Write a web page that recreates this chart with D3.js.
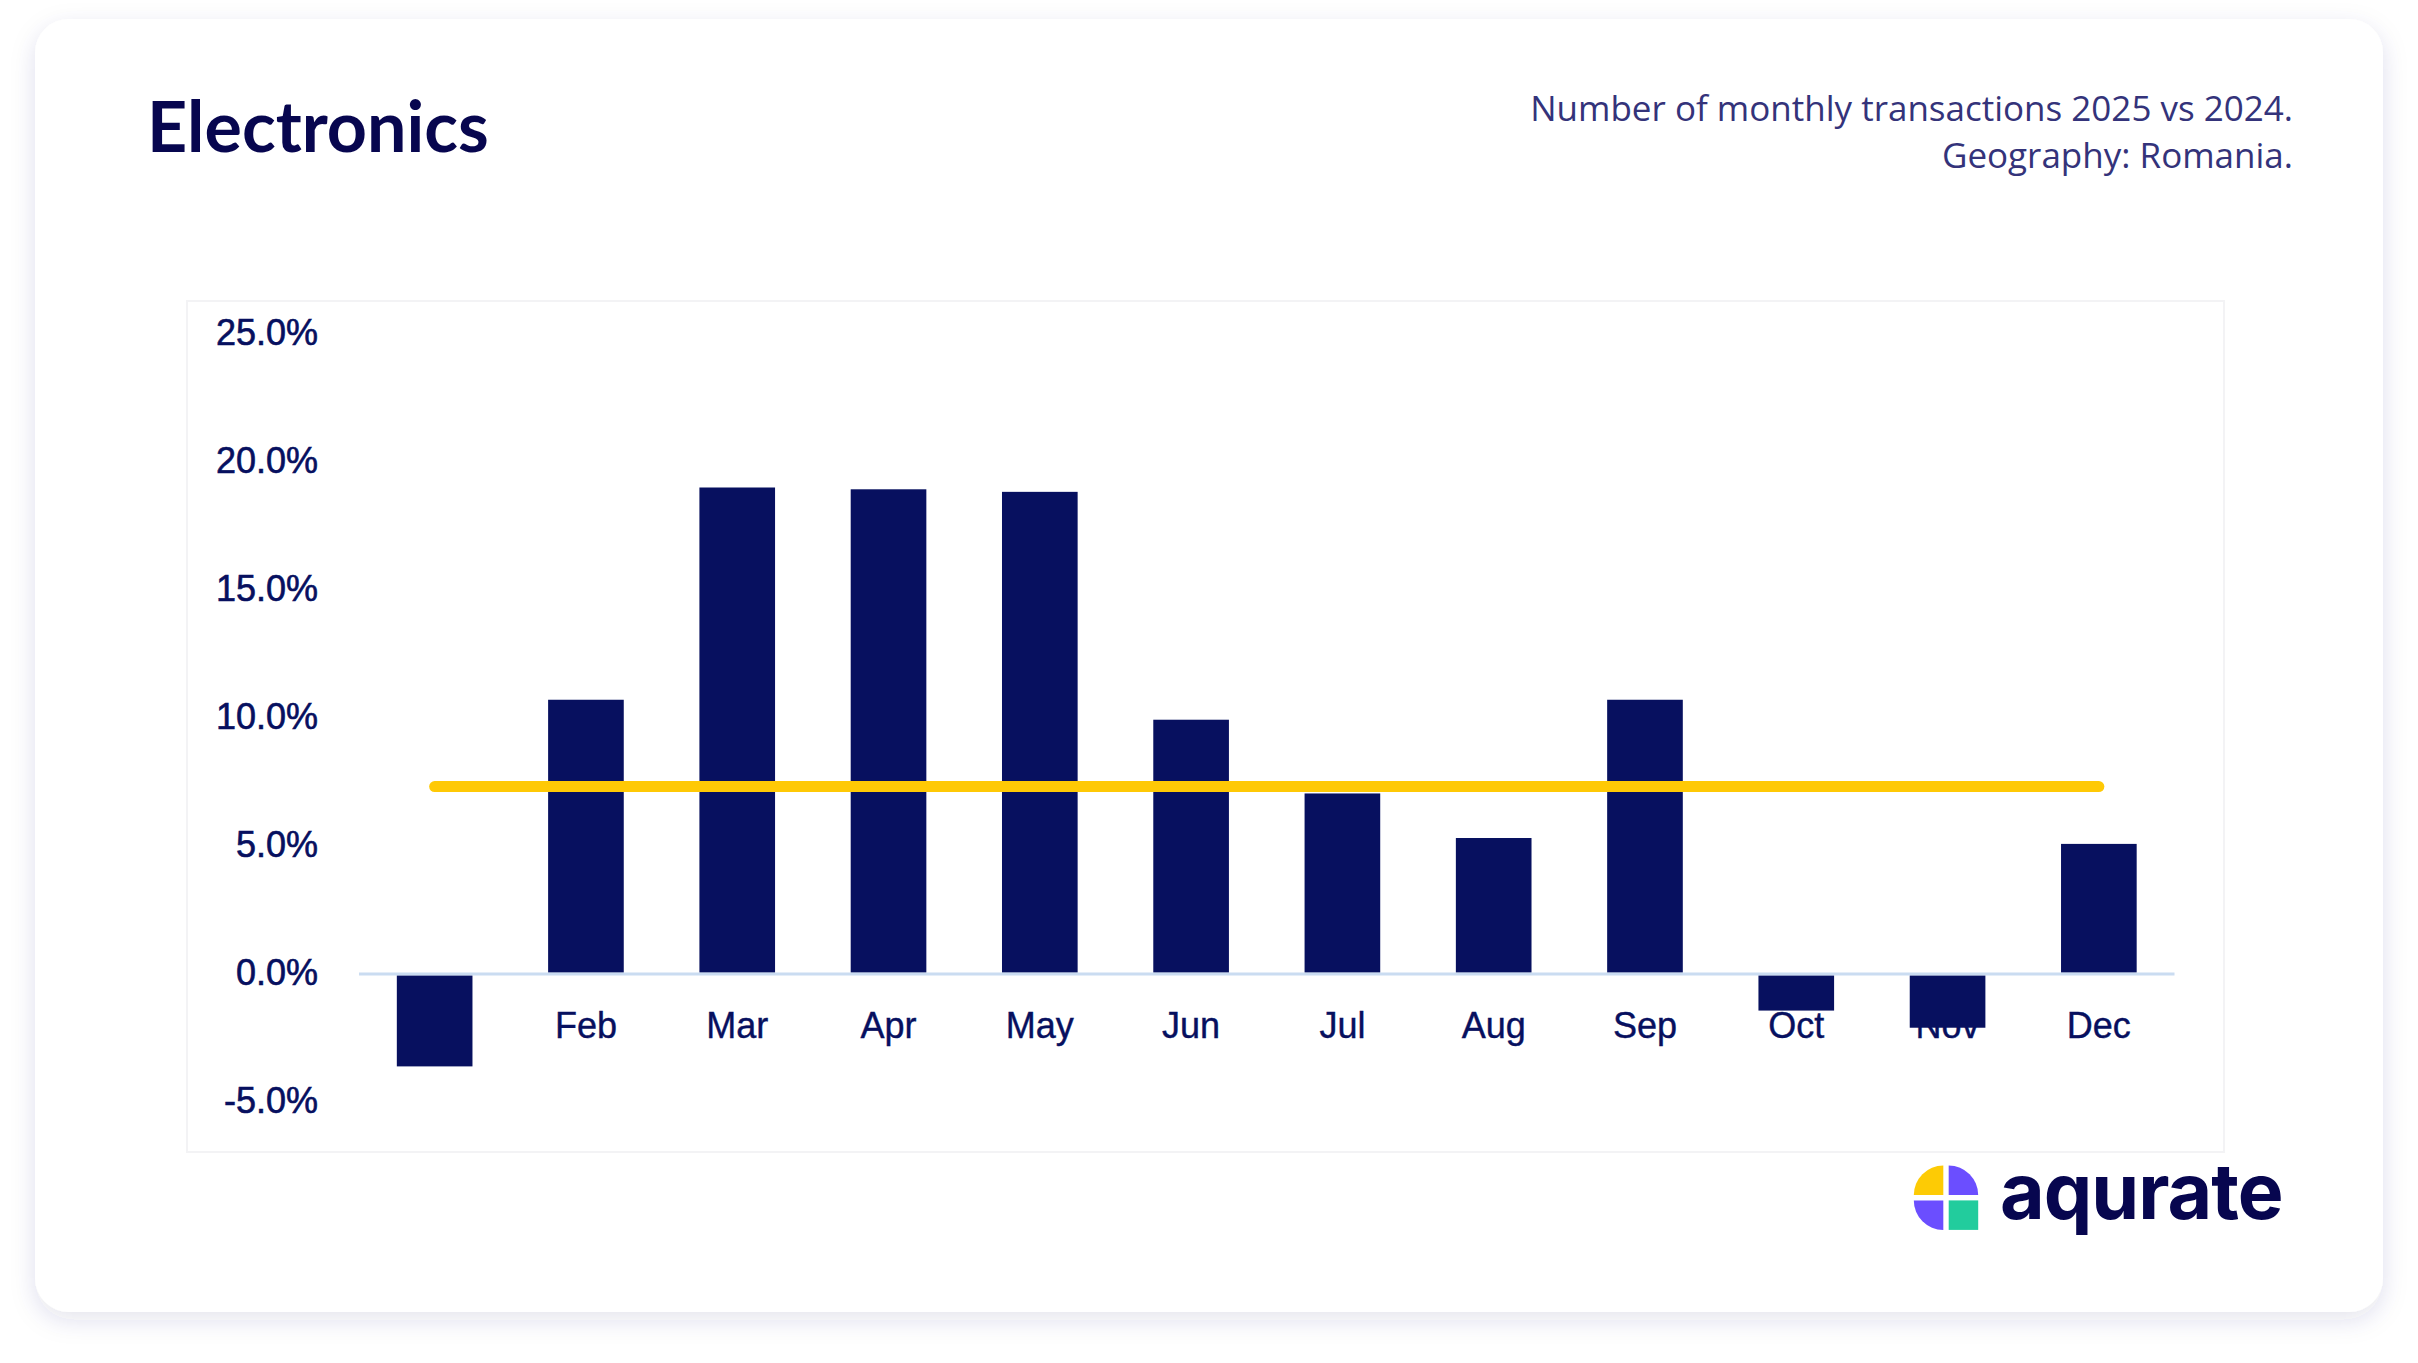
<!DOCTYPE html>
<html>
<head>
<meta charset="utf-8">
<script src="https://cdn.jsdelivr.net/npm/d3@7"></script>
<style>
    html, body { margin: 0; padding: 0; background: #ffffff; }
    svg { display: block; }
</style>
</head>
<body>
<div class="chart"></div>
<script>
var width = 2418;
var height = 1363;

// data (% change vs last year)
var months = ['Jan', 'Feb', 'Mar', 'Apr', 'May', 'Jun', 'Jul', 'Aug', 'Sep', 'Oct', 'Nov', 'Dec'];
var changes = [-3.66, 10.66, 18.95, 18.88, 18.78, 9.88, 7.0, 5.26, 10.66, -1.48, -2.15, 5.03];
var yTicks = [-5, 0, 5, 10, 15, 20, 25];
var avgLine = [7.27];

var titleText = 'Electronics';
var subLines = ['Number of monthly transactions 2025 vs 2024.', 'Geography: Romania.'];

var navy = '#07105f';
var ink = '#07064f';

var svg = d3.select('.chart').append('svg')
    .attr('width', width)
    .attr('height', height);

// card shadow
var defs = svg.append('defs');
defs.append('filter')
    .attr('id', 'shadow')
    .attr('x', '-5%').attr('y', '-5%')
    .attr('width', '110%').attr('height', '115%')
    .append('feDropShadow')
    .attr('dx', 0)
    .attr('dy', 8)
    .attr('stdDeviation', 12)
    .attr('flood-color', '#2b2b72')
    .attr('flood-opacity', 0.13);

svg.append('rect')
    .attr('x', 35)
    .attr('y', 19)
    .attr('width', 2383 - 35)
    .attr('height', 1312 - 19)
    .attr('rx', 34)
    .attr('fill', '#ffffff')
    .attr('filter', 'url(#shadow)');

// title + subtitle
svg.append('text')
    .attr('x', 147)
    .attr('y', 152)
    .attr('font-family', 'Lato, sans-serif')
    .attr('font-weight', 700)
    .attr('font-size', 70)
    .attr('fill', ink)
    .text(titleText);

svg.selectAll('.sub')
    .data(subLines)
    .enter()
    .append('text')
    .attr('class', 'sub')
    .attr('x', 2293)
    .attr('y', function (d, i) { return 121 + i * 47; })
    .attr('text-anchor', 'end')
    .attr('font-family', '"Open Sans", sans-serif')
    .attr('font-size', 35)
    .attr('fill', '#34337a')
    .text(function (d) { return d; });

// plot frame (very faint)
svg.append('rect')
    .attr('x', 187)
    .attr('y', 301)
    .attr('width', 2224 - 187)
    .attr('height', 1152 - 301)
    .attr('fill', 'none')
    .attr('stroke', '#f3f3f5')
    .attr('stroke-width', 2);

// scales
var x = d3.scaleBand()
    .domain(months)
    .range([359, 2174.5])
    .paddingInner(0.5)
    .paddingOuter(0.25);

var y = d3.scaleLinear()
    .domain([-5, 25])
    .range([1100.7, 332.6]);

// y axis labels
var yAxis = svg.append('g')
    .attr('transform', 'translate(330,0)')
    .call(d3.axisLeft(y)
        .tickValues(yTicks)
        .tickSize(0)
        .tickPadding(12)
        .tickFormat(function (d) { return d.toFixed(1) + '%'; }));
yAxis.select('.domain').remove();
yAxis.selectAll('text')
    .attr('font-family', '"Liberation Sans", Arial, sans-serif')
    .attr('font-size', 36)
    .attr('fill', navy)
    .attr('stroke', navy)
    .attr('stroke-width', 0.6);

// x axis labels (drawn under the bars, so Jan/Nov get covered)
var xAxis = svg.append('g')
    .attr('transform', 'translate(0,' + y(0) + ')')
    .call(d3.axisBottom(x)
        .tickSize(0)
        .tickPadding(40));
xAxis.select('.domain').remove();
xAxis.selectAll('text')
    .attr('font-family', '"Liberation Sans", Arial, sans-serif')
    .attr('font-size', 36)
    .attr('fill', navy)
    .attr('stroke', navy)
    .attr('stroke-width', 0.4);

// bars
svg.selectAll('.bar')
    .data(changes)
    .enter()
    .append('rect')
    .attr('class', 'bar')
    .attr('x', function (d, i) { return x(months[i]); })
    .attr('width', x.bandwidth())
    .attr('y', function (d) { return d >= 0 ? y(d) : y(0) + 2.6; })
    .attr('height', function (d) { return d >= 0 ? y(0) - y(d) : y(d) - y(0) - 2.6; })
    .attr('fill', navy);

// zero line
svg.append('line')
    .attr('x1', x.range()[0])
    .attr('x2', x.range()[1])
    .attr('y1', y(0) + 1.3)
    .attr('y2', y(0) + 1.3)
    .attr('stroke', '#cadcf1')
    .attr('stroke-width', 3);

// average line
svg.selectAll('.avg')
    .data(avgLine)
    .enter()
    .append('line')
    .attr('class', 'avg')
    .attr('x1', x(months[0]) + x.bandwidth() / 2)
    .attr('x2', x(months[months.length - 1]) + x.bandwidth() / 2)
    .attr('y1', function (d) { return y(d); })
    .attr('y2', function (d) { return y(d); })
    .attr('stroke', '#ffc905')
    .attr('stroke-width', 11)
    .attr('stroke-linecap', 'round');

// logo
var cx = 1946, cy = 1197.7, g = 2.7, r = 29.5;
var arc = d3.arc().innerRadius(0).outerRadius(r);
var logo = svg.append('g');
logo.append('path')
    .attr('transform', 'translate(' + (cx - g) + ',' + (cy - g) + ')')
    .attr('d', arc({startAngle: -Math.PI / 2, endAngle: 0}))
    .attr('fill', '#fdcb05');
logo.append('path')
    .attr('transform', 'translate(' + (cx + g) + ',' + (cy - g) + ')')
    .attr('d', arc({startAngle: 0, endAngle: Math.PI / 2}))
    .attr('fill', '#6b4eff');
logo.append('path')
    .attr('transform', 'translate(' + (cx - g) + ',' + (cy + g) + ')')
    .attr('d', arc({startAngle: Math.PI, endAngle: Math.PI * 1.5}))
    .attr('fill', '#6b4eff');
logo.append('rect')
    .attr('x', cx + g)
    .attr('y', cy + g)
    .attr('width', r)
    .attr('height', r)
    .attr('fill', '#22cc9d');
logo.append('text')
    .attr('x', 2000)
    .attr('y', 1219)
    .attr('font-family', 'Inter, sans-serif')
    .attr('font-weight', 700)
    .attr('font-size', 77)
    .attr('letter-spacing', -1)
    .attr('fill', ink)
    .text('aqurate');
</script>
</body>
</html>
